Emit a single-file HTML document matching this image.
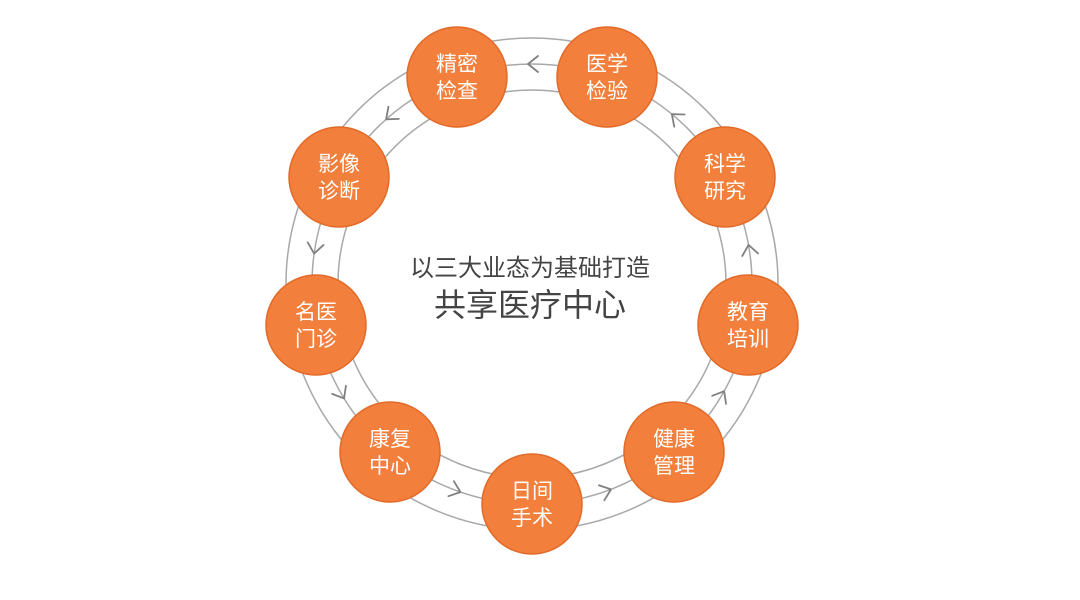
<!DOCTYPE html>
<html><head><meta charset="utf-8"><style>
html,body{margin:0;padding:0;background:#fff;}
svg{display:block}
</style></head><body>
<svg width="1080" height="600" viewBox="0 0 1080 600" xmlns="http://www.w3.org/2000/svg">
<g fill="none" stroke="#a8a8a8" stroke-width="1.5">
<circle cx="532" cy="284" r="246"/>
<circle cx="532" cy="284" r="220"/>
<circle cx="532" cy="284" r="194"/>
</g>
<g fill="none" stroke="#808080" stroke-width="1.8" stroke-linecap="round" stroke-linejoin="round">
<g transform="rotate(270 532 284)"><path d="M744 290 L752 280 L760 290"/></g>
<g transform="rotate(310.5 532 284)"><path d="M744 290 L752 280 L760 290"/></g>
<g transform="rotate(350.8 532 284)"><path d="M744 290 L752 280 L760 290"/></g>
<g transform="rotate(30.2 532 284)"><path d="M744 290 L752 280 L760 290"/></g>
<g transform="rotate(70 532 284)"><path d="M744 290 L752 280 L760 290"/></g>
<g transform="rotate(110 532 284)"><path d="M744 290 L752 280 L760 290"/></g>
<g transform="rotate(149.7 532 284)"><path d="M744 290 L752 280 L760 290"/></g>
<g transform="rotate(189 532 284)"><path d="M744 290 L752 280 L760 290"/></g>
<g transform="rotate(229.5 532 284)"><path d="M744 290 L752 280 L760 290"/></g>
</g>
<g fill="#f27f3b" stroke="#e26a28" stroke-width="1.5">
<circle cx="457" cy="77" r="50"/>
<circle cx="607" cy="77" r="50"/>
<circle cx="725" cy="177" r="50"/>
<circle cx="748" cy="325" r="50"/>
<circle cx="674" cy="452" r="50"/>
<circle cx="532" cy="504" r="50"/>
<circle cx="390" cy="452" r="50"/>
<circle cx="316" cy="325" r="50"/>
<circle cx="339" cy="177" r="50"/>
</g>
<g fill="#fff" font-family="'Liberation Sans','Noto Sans CJK SC',sans-serif" font-size="21" text-anchor="middle">
<text x="457" y="71">精密</text><text x="457" y="98">检查</text>
<text x="607" y="71">医学</text><text x="607" y="98">检验</text>
<text x="725" y="171">科学</text><text x="725" y="198">研究</text>
<text x="748" y="319">教育</text><text x="748" y="346">培训</text>
<text x="674" y="446">健康</text><text x="674" y="473">管理</text>
<text x="532" y="498">日间</text><text x="532" y="525">手术</text>
<text x="390" y="446">康复</text><text x="390" y="473">中心</text>
<text x="316" y="319">名医</text><text x="316" y="346">门诊</text>
<text x="339" y="171">影像</text><text x="339" y="198">诊断</text>
</g>
<g fill="#444" font-family="'Liberation Sans','Noto Sans CJK SC',sans-serif" text-anchor="middle">
<text x="530" y="276" font-size="24">以三大业态为基础打造</text>
<text x="530" y="316" font-size="32">共享医疗中心</text>
</g>
</svg>
</body></html>
